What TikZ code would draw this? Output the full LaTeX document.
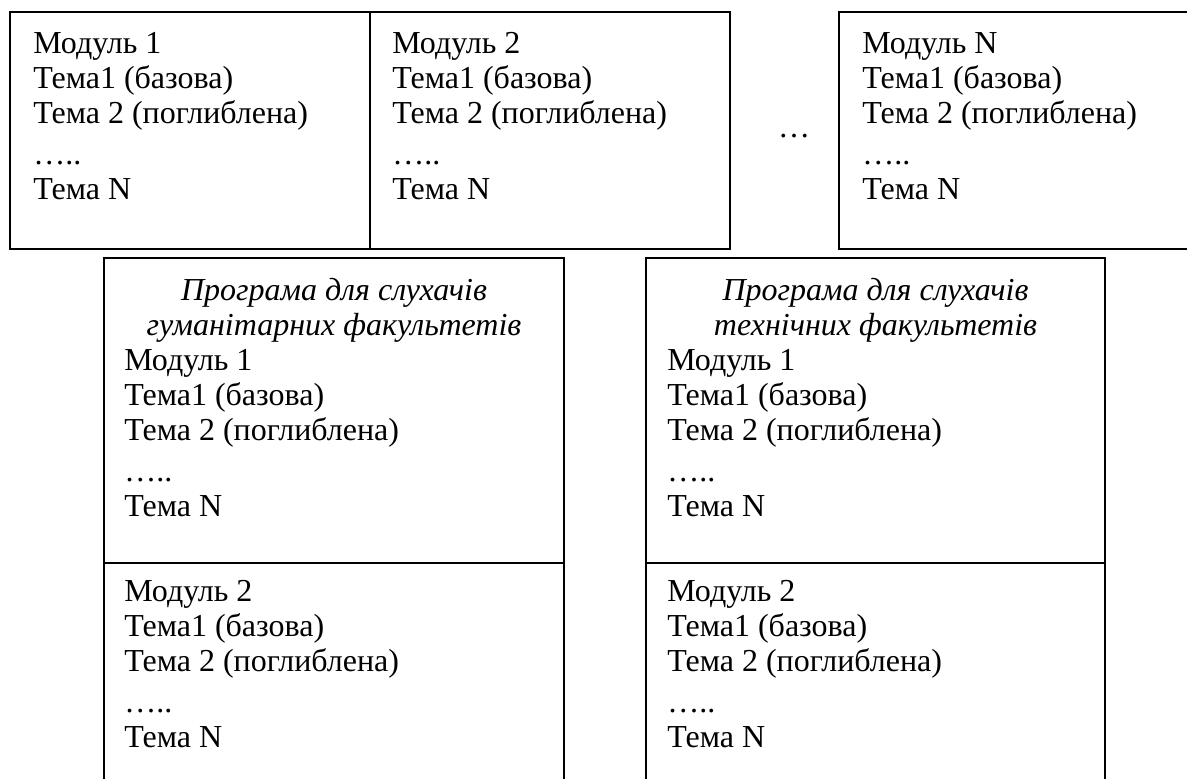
\documentclass[tikz,border=0pt]{standalone}
\usepackage{fontspec}
\setmainfont{Liberation Serif}
\tikzset{
  cell/.style={draw=black, line width=1.5pt},
  txt/.style={anchor=base west, inner sep=0pt, font=\fontsize{24}{28}\selectfont},
  ttl/.style={anchor=base, inner sep=0pt, font=\fontsize{24}{28}\selectfont\itshape},
}
\begin{document}
\begin{tikzpicture}[x=0.75pt,y=-0.75pt]
\useasboundingbox (0,0) rectangle (1187,778);
% top row boxes
\draw[cell] (10,12) rectangle (370,249);
\draw[cell] (370,12) rectangle (730,249);
\draw[cell] (839,12) rectangle (1195,249);
% bottom boxes
\draw[cell] (104,258) rectangle (564,790);
\draw[cell] (104,563) -- (564,563);
\draw[cell] (646,258) rectangle (1105,790);
\draw[cell] (646,563) -- (1105,563);
% top texts
\foreach \x/\n/\m in {33/a/1, 392/b/2, 862/c/N}{
  \node[txt] (\n1) at (\x,53) {Модуль \m};
  \node[txt] (\n2) at (\x,88) {Тема1 (базова)};
  \node[txt] (\n3) at (\x,123) {Тема 2 (поглиблена)};
  \node[txt] (\n4) at (\x,164) {…..};
  \node[txt] (\n5) at (\x,199) {Тема N};
}
\node[txt, anchor=base] (ell) at (794,137) {…};
% bottom left
\node[ttl] (h1) at (334,300) {Програма для слухачів};
\node[ttl] (h2) at (334,335) {гуманітарних факультетів};
\node[ttl] (k1) at (875.5,300) {Програма для слухачів};
\node[ttl] (k2) at (875.5,335) {технічних факультетів};
\foreach \x/\n in {124/p, 667/q}{
  \node[txt] (\n1) at (\x,370) {Модуль 1};
  \node[txt] (\n2) at (\x,405) {Тема1 (базова)};
  \node[txt] (\n3) at (\x,440) {Тема 2 (поглиблена)};
  \node[txt] (\n4) at (\x,481) {…..};
  \node[txt] (\n5) at (\x,516) {Тема N};
  \node[txt] (\n6) at (\x,601) {Модуль 2};
  \node[txt] (\n7) at (\x,636) {Тема1 (базова)};
  \node[txt] (\n8) at (\x,671) {Тема 2 (поглиблена)};
  \node[txt] (\n9) at (\x,712) {…..};
  \node[txt] (\n0) at (\x,747) {Тема N};
}
\end{tikzpicture}
\end{document}
